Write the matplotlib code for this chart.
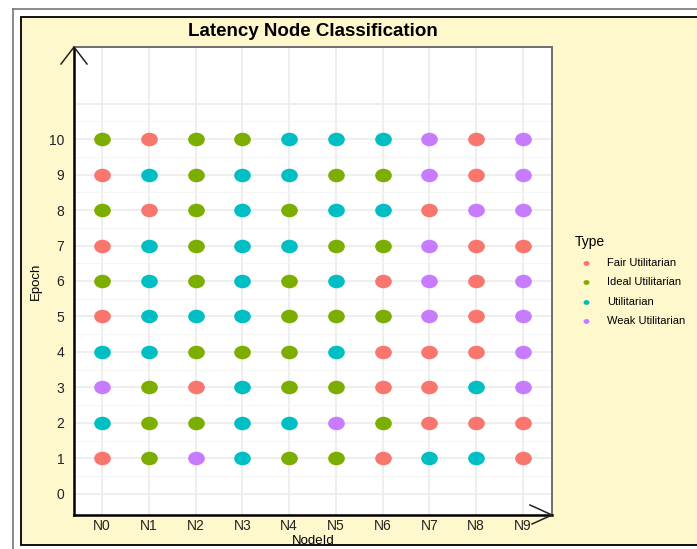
import numpy as np
import matplotlib.pyplot as plt
from matplotlib.path import Path
from matplotlib.transforms import Affine2D
from matplotlib.patches import Rectangle
from matplotlib.lines import Line2D

plt.rcParams['font.family'] = ['Liberation Sans', 'DejaVu Sans']

nodes = ['N0', 'N1', 'N2', 'N3', 'N4', 'N5', 'N6', 'N7', 'N8', 'N9']
epochs = [1, 2, 3, 4, 5, 6, 7, 8, 9, 10]
type_names = ['Fair Utilitarian', 'Ideal Utilitarian', 'Utilitarian', 'Weak Utilitarian']
type_codes = ['F', 'I', 'U', 'W']
type_colors = ['#F8766D', '#7CAE00', '#00BFC4', '#C77CFF']

# one row per epoch (1..10), one code per node N0..N9
epoch_types = [
    'FIWUIIFUUF',
    'UIIUUWIFFF',
    'WIFUIIFFUW',
    'UUIIIUFFFW',
    'FUUUIIIWFW',
    'IUIUIUFWFW',
    'FUIUUIIWFF',
    'IFIUIUUFWW',
    'FUIUUIIWFW',
    'IFIIUUUWFW',
]

fig = plt.figure(figsize=(6.97, 5.49), dpi=100)
fig.patch.set_facecolor('white')

# outer frame and the yellow panel
fig.add_artist(Line2D([13/697, 1], [1 - 9/549, 1 - 9/549], color='#777777', lw=1.2))
fig.add_artist(Line2D([13/697, 13/697], [0, 1 - 9/549], color='#777777', lw=1.2))
fig.add_artist(Rectangle((21/697, 4/549), 1, 1 - 21/549, facecolor='#FFF8CD',
                         edgecolor='black', lw=1.3, zorder=0))

ax = fig.add_axes([74/697, 34/549, 478/697, 468/549])
ax.set_facecolor('white')

# ellipse marker, slightly wider than tall
ellipse = Path.unit_circle().transformed(Affine2D().scale(1.23, 1.0))

for code, name, color in zip(type_codes, type_names, type_colors):
    xs, ys = [], []
    for e, row in zip(epochs, epoch_types):
        for i, c in enumerate(row):
            if c == code:
                xs.append(i)
                ys.append(e)
    ax.scatter(xs, ys, marker=ellipse, s=12**2, color=color, label=name,
               linewidths=0, zorder=3)

ax.set_xlim(-0.6, 9.62)
ax.set_ylim(-0.6, 12.6)
ax.set_xticks(range(len(nodes)))
ax.set_xticklabels(nodes)
ax.set_yticks(range(0, 11))
ax.set_yticks(np.arange(0.5, 11.0, 1.0), minor=True)

ax.grid(which='major', color='#EDEDED', lw=1.3, zorder=0)
ax.axhline(11, color='#EDEDED', lw=1.3, zorder=0)
ax.grid(which='minor', axis='y', color='#F4F4F4', lw=0.7, zorder=0)
ax.set_axisbelow(True)

ax.tick_params(which='both', length=0, labelsize=10, labelcolor='#222222')
ax.tick_params(axis='y', pad=7)
ax.tick_params(axis='x', pad=3)

for s in ['left', 'bottom']:
    ax.spines[s].set_color('black')
    ax.spines[s].set_linewidth(1.8)
for s in ['top', 'right']:
    ax.spines[s].set_color('#6E6E6E')
    ax.spines[s].set_linewidth(1.4)

# arrow heads at the ends of the axes
ax.plot([(61-74)/478, 0.0, (87-74)/478], [(515-64)/468, 1.0, (515-64)/468],
        color='#222222', lw=1.1, transform=ax.transAxes, clip_on=False, zorder=5)
ax.plot([(530-74)/478, 1.0, (532-74)/478], [(515-505)/468, 0.0, (515-524)/468],
        color='#222222', lw=1.1, transform=ax.transAxes, clip_on=False, zorder=5)

ax.set_xlabel('NodeId', fontsize=9.5)
ax.xaxis.set_label_coords(0.5, -0.043)
ax.set_ylabel('Epoch', fontsize=9.5)
ax.yaxis.set_label_coords(-0.067, 0.5)

fig.text(313/697, 1 - 31/549, 'Latency Node Classification', ha='center', va='center',
         fontsize=13.5, fontweight='bold')

leg = ax.legend(title='Type', loc='upper left', bbox_to_anchor=(570/697, 1 - 231/549),
                bbox_transform=fig.transFigure, frameon=False, fontsize=8,
                title_fontsize=10, markerscale=0.36, labelspacing=0.85,
                handletextpad=0.9, borderaxespad=0)
leg._legend_box.align = 'left'
leg._legend_box.sep = 6

fig.savefig('out.png', dpi=100)
